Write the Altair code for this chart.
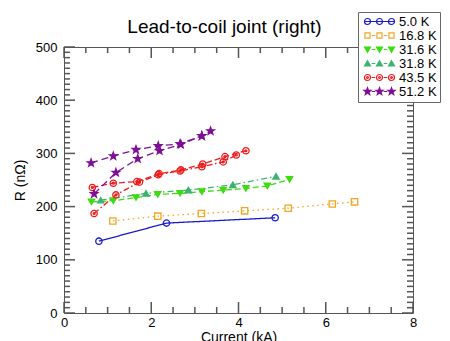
import altair as alt
import pandas as pd

# ---- data ----
labels = ["5.0 K", "16.8 K", "31.6 K", "31.8 K", "43.5 K", "51.2 K"]

I_50 = [0.80, 2.35, 4.84]
R_50 = [135, 169, 179]

I_168 = [1.12, 2.15, 3.15, 4.14, 5.14, 6.15, 6.66]
R_168 = [173, 182, 187, 192, 197, 205, 209]

I_316 = [0.63, 1.13, 1.65, 2.15, 2.66, 3.16, 3.65, 4.17, 4.66, 5.17]
R_316 = [209, 211, 217, 223, 225, 228, 231, 234, 239, 251]

I_318 = [0.84, 1.88, 2.85, 3.87, 4.86]
R_318 = [212, 225, 231, 241, 257]

I_435a = [0.65, 1.13, 1.67, 2.18, 2.68, 3.18, 3.69, 4.17]
R_435a = [236, 244, 247, 262, 269, 280, 294, 305]
I_435b = [0.69, 1.19, 1.73, 2.16, 2.66, 3.16, 3.65, 3.95]
R_435b = [187, 222, 246, 260, 267, 275, 284, 297]

I_512a = [0.62, 1.13, 1.65, 2.16, 2.66, 3.16, 3.36]
R_512a = [282, 295, 307, 314, 318, 333, 342]
I_512b = [0.69, 1.19, 1.69, 2.19, 2.68, 3.16]
R_512b = [224, 264, 290, 305, 317, 333]

x_major = [0, 2, 4, 6, 8]
x_minor = [0.5, 1, 1.5, 2.5, 3, 3.5, 4.5, 5, 5.5, 6.5, 7, 7.5]
y_major = [0, 100, 200, 300, 400, 500]
y_minor = [v for v in range(10, 500, 10) if v % 100 != 0]

series_defs = [
    ("s50", "5.0 K", I_50, R_50),
    ("s168", "16.8 K", I_168, R_168),
    ("s316", "31.6 K", I_316, R_316),
    ("s318", "31.8 K", I_318, R_318),
    ("s435a", "43.5 K", I_435a, R_435a),
    ("s435b", "43.5 K", I_435b, R_435b),
    ("s512a", "51.2 K", I_512a, R_512a),
    ("s512b", "51.2 K", I_512b, R_512b),
]

rows = []
for sid, lab, xs_, ys_ in series_defs:
    for k, (x, y) in enumerate(zip(xs_, ys_)):
        rows.append({"series": sid, "label": lab, "I": x, "R": y, "order": k})
df = pd.DataFrame(rows)

# ---- styling ----
colors = ["#1a1acc", "#f2a623", "#3ddc10", "#3cb371", "#ee1c1c", "#7f0f96"]
fills = ["transparent", "transparent", "#3ddc10", "#3cb371", "transparent", "#7f0f96"]


def star_path(cx=0.0, s=1.0):
    pts = [(0, -1), (0.235, -0.324), (0.951, -0.309), (0.380, 0.124), (0.588, 0.809),
           (0, 0.4), (-0.588, 0.809), (-0.380, 0.124), (-0.951, -0.309), (-0.235, -0.324)]
    return "M" + " L".join(f"{cx + s * a:.3f},{s * b:.3f}" for a, b in pts) + " Z"


def circle_path(cx=0.0, r=1.0):
    return f"M{cx + r:.3f},0 A{r},{r} 0 1,1 {cx - r:.3f},0 A{r},{r} 0 1,1 {cx + r:.3f},0 Z"


def square_path(cx=0.0, h=0.85):
    return f"M{cx - h:.3f},{-h} L{cx + h:.3f},{-h} L{cx + h:.3f},{h} L{cx - h:.3f},{h} Z"


def tri_down(cx=0.0):
    return f"M{cx - 1:.3f},-0.8 L{cx + 1:.3f},-0.8 L{cx:.3f},0.9 Z"


def tri_up(cx=0.0):
    return f"M{cx - 1:.3f},0.8 L{cx + 1:.3f},0.8 L{cx:.3f},-0.9 Z"


def ring(cx=0.0, r=1.0):
    return circle_path(cx, r) + " " + circle_path(cx, 0.3 * r)


plot_shapes = ["circle", "square", "triangle-down", "triangle-up", ring(), star_path(0, 1.25)]

centres = [-4, 0, 4]


def legend_symbol(marker, full_line):
    line = "M-5,0 L5,0" if full_line else "M-2.6,0 L-1.4,0 M1.4,0 L2.6,0"
    return line + " " + " ".join(marker(c) for c in centres)


legend_shapes = [
    legend_symbol(circle_path, True),
    legend_symbol(square_path, False),
    legend_symbol(tri_down, False),
    legend_symbol(tri_up, False),
    legend_symbol(lambda c: ring(c), False),
    legend_symbol(lambda c: star_path(c, 1.25), False),
]

series_ids = [s[0] for s in series_defs]
dashes = [[1, 0], [1.5, 3.5], [6, 3], [6, 3, 1.5, 3], [6, 3], [6, 2.5, 1.5, 2.5], [7, 4], [7, 4]]

FONT = "Liberation Sans"
W, H = 349, 266
X_MAX, Y_MAX = 8, 500
xs = alt.Scale(domain=[0, X_MAX], nice=False, zero=False)
ys = alt.Scale(domain=[0, Y_MAX], nice=False, zero=False)
TICK_COLOR = "#555555"
MAJOR_LEN, MINOR_LEN = 11, 6

x_label_axis = alt.Axis(
    values=x_major, format="d", title="Current (kA)", grid=False, ticks=False, domain=False,
    labelPadding=3, labelOverlap=False, labelFlush=False,
    labelFont=FONT, labelFontSize=13, labelColor="#000",
    titleFont=FONT, titleFontSize=14, titleFontWeight="normal", titleColor="#000", titlePadding=1,
)
y_label_axis = alt.Axis(
    values=y_major, format="d", title="R (nΩ)", grid=False, ticks=False, domain=False,
    labelPadding=7, labelOverlap=False, labelFlush=False,
    labelFont=FONT, labelFontSize=13, labelColor="#000",
    titleFont=FONT, titleFontSize=14, titleFontWeight="normal", titleColor="#000", titlePadding=8,
)

lines = alt.Chart(df).mark_line(strokeWidth=1.3).encode(
    x=alt.X("I:Q", scale=xs, axis=x_label_axis),
    y=alt.Y("R:Q", scale=ys, axis=y_label_axis),
    stroke=alt.Stroke("label:N", scale=alt.Scale(domain=labels, range=colors), legend=None),
    detail="series:N",
    order="order:Q",
    strokeDash=alt.StrokeDash("series:N", scale=alt.Scale(domain=series_ids, range=dashes), legend=None),
)

points = alt.Chart(df).mark_point(size=40, strokeWidth=1.3, opacity=1).encode(
    x=alt.X("I:Q", scale=xs, axis=None),
    y=alt.Y("R:Q", scale=ys, axis=None),
    stroke=alt.Stroke("label:N", scale=alt.Scale(domain=labels, range=colors), legend=None),
    fill=alt.Fill("label:N", scale=alt.Scale(domain=labels, range=fills), legend=None),
    shape=alt.Shape("label:N", scale=alt.Scale(domain=labels, range=plot_shapes), legend=None),
)

legend_layer = alt.Chart(df).transform_filter("false").mark_point(strokeWidth=1.2, opacity=1).encode(
    stroke=alt.Stroke("label:N", scale=alt.Scale(domain=labels, range=colors), legend=alt.Legend(title=None)),
    fill=alt.Fill("label:N", scale=alt.Scale(domain=labels, range=fills), legend=alt.Legend(title=None)),
    shape=alt.Shape("label:N", scale=alt.Scale(domain=labels, range=legend_shapes), legend=alt.Legend(title=None)),
)


# inward-pointing tick marks on the four sides of the frame, positioned by the shared scales
def x_ticks(values, edge_value, length, inward):
    inner = edge_value + inward * length * Y_MAX / H
    tdf = pd.DataFrame({"v": values, "y0": [edge_value] * len(values), "y1": [inner] * len(values)})
    return alt.Chart(tdf).mark_rule(color=TICK_COLOR, strokeWidth=1.5, opacity=1).encode(
        x=alt.X("v:Q", scale=xs, axis=None),
        y=alt.Y("y0:Q", scale=ys, axis=None),
        y2=alt.Y2("y1:Q"),
    )


def y_ticks(values, edge_value, length, inward):
    return alt.Chart(pd.DataFrame({"v": values})).mark_rule(
        color=TICK_COLOR, strokeWidth=1.5, opacity=1, x2Offset=inward * length
    ).encode(
        x=alt.X(datum=edge_value, scale=xs, axis=None),
        x2=alt.X2(datum=edge_value),
        y=alt.Y("v:Q", scale=ys, axis=None),
    )


tick_layers = [
    x_ticks(x_major, 0, MAJOR_LEN, 1), x_ticks(x_minor, 0, MINOR_LEN, 1),
    x_ticks(x_major, Y_MAX, MAJOR_LEN, -1), x_ticks(x_minor, Y_MAX, MINOR_LEN, -1),
    y_ticks(y_major, 0, MAJOR_LEN, 1), y_ticks(y_minor, 0, MINOR_LEN, 1),
    y_ticks(y_major, X_MAX, MAJOR_LEN, -1), y_ticks(y_minor, X_MAX, MINOR_LEN, -1),
]

chart = alt.layer(lines, points, legend_layer, *tick_layers).resolve_axis(
    x="independent", y="independent"
).resolve_scale(stroke="independent", fill="independent", shape="independent").properties(
    width=W, height=H,
    title=alt.TitleParams("Lead-to-coil joint (right)", font=FONT, fontSize=19,
                          fontWeight="normal", color="#000", offset=0, dx=-14, dy=25),
    autosize=alt.AutoSizeParams(type="none"),
    padding={"left": 64, "top": 47, "right": 37, "bottom": 28},
).configure_view(
    stroke="#555", strokeWidth=1
).configure_legend(
    orient="none", legendX=294, legendY=-35,
    fillColor="white", strokeColor="#666", padding=3,
    labelFont=FONT, labelFontSize=13, labelColor="#000",
    symbolSize=36, symbolStrokeWidth=1.2, rowPadding=0, symbolOffset=12, labelOffset=13,
)

chart.save("out.html", embed_options={"renderer": "svg", "actions": False})
